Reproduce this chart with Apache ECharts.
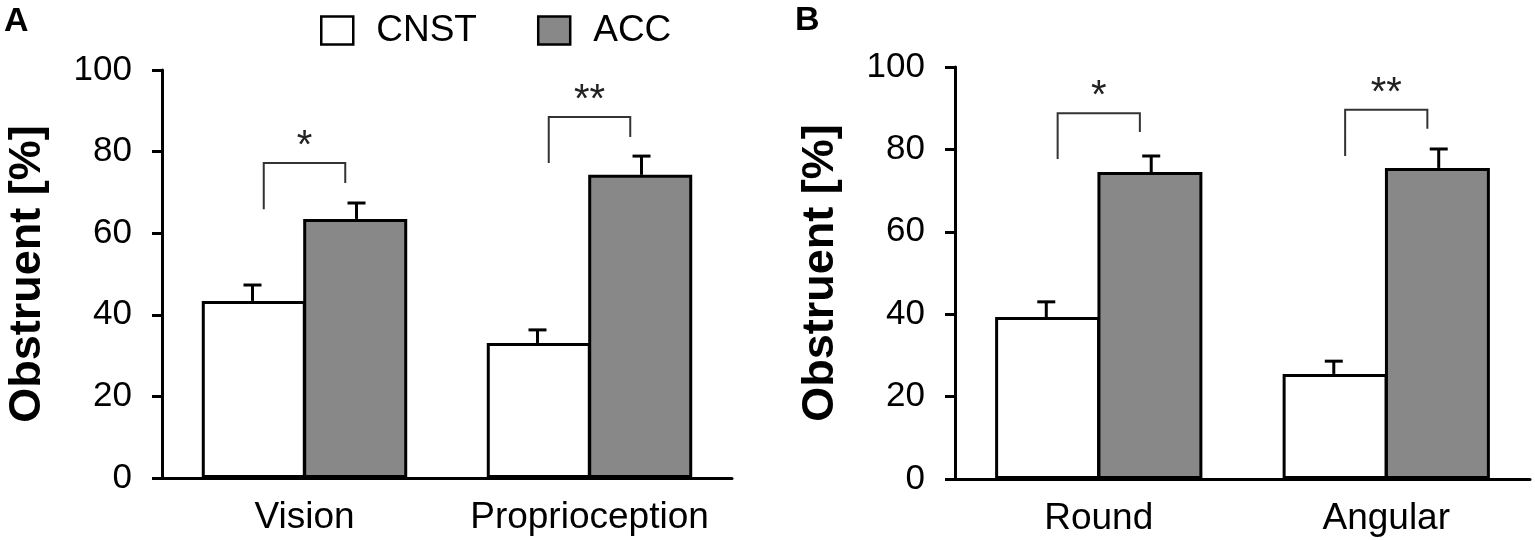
<!DOCTYPE html>
<html>
<head>
<meta charset="utf-8">
<script src="https://cdn.jsdelivr.net/npm/echarts@6/dist/echarts.min.js"></script>
<style>
  html, body { margin: 0; padding: 0; background: #fff; }
  #main { width: 1535px; height: 540px; }
</style>
</head>
<body>
<div id="main"></div>
<script>
// panel A
var catsA = ['Vision', 'Proprioception'];
var cnstA = [43.4, 33.1];
var cnstErrA = [3.9, 3.2];
var accA = [63.5, 74.3];
var accErrA = [3.9, 4.6];
// [category, left leg bottom, bracket top, right leg bottom, mark]
var sigA = [[0, 65.9, 77.2, 72.3, '*'], [1, 77.2, 88.5, 83.6, '**']];

// panel B
var catsB = ['Round', 'Angular'];
var cnstB = [39.3, 25.5];
var cnstErrB = [3.7, 3.1];
var accB = [74.5, 75.5];
var accErrB = [3.9, 4.6];
var sigB = [[0, 77.7, 88.8, 84.2, '*'], [1, 78.4, 89.6, 85.0, '**']];

var yTicks = [0, 20, 40, 60, 80, 100];

var FONT = '"Liberation Sans", Arial, Helvetica, sans-serif';
var BAR_W = 0.365;

var chart = echarts.init(document.getElementById('main'));

function errRender(shift) {
  return function (params, api) {
    var c = api.value(0), v = api.value(1), e = api.value(2);
    var band = api.size([1, 0])[0];
    var p0 = api.coord([c, v]);
    var p1 = api.coord([c, v + e]);
    var x = p0[0] + shift * band;
    return {
      type: 'group',
      children: [
        { type: 'line', shape: { x1: x, y1: p0[1], x2: x, y2: p1[1] }, style: { stroke: '#000', lineWidth: 3 } },
        { type: 'line', shape: { x1: x - 9, y1: p1[1], x2: x + 9, y2: p1[1] }, style: { stroke: '#000', lineWidth: 3 } }
      ]
    };
  };
}

function sigRender(list) {
  return function (params, api) {
    var d = list[params.dataIndex];
    var band = api.size([1, 0])[0];
    var cx = api.coord([d[0], 0])[0];
    var xl = cx - 0.143 * band, xr = cx + 0.143 * band;
    var yl = api.coord([d[0], d[1]])[1];
    var yt = api.coord([d[0], d[2]])[1];
    var yr = api.coord([d[0], d[3]])[1];
    return {
      type: 'group',
      children: [
        { type: 'polyline', shape: { points: [[xl, yl], [xl, yt], [xr, yt], [xr, yr]] },
          style: { stroke: '#333', lineWidth: 2, fill: null } },
        { type: 'text', style: { text: d[4], x: (xl + xr) / 2, y: yt + 4, align: 'center', verticalAlign: 'bottom',
          fontSize: 40, fontFamily: FONT, fill: '#222' } }
      ]
    };
  };
}

function pack(vals, errs) {
  return vals.map(function (v, i) { return [i, v, errs[i]]; });
}

function yAxisCfg(idx) {
  return {
    gridIndex: idx,
    type: 'value',
    min: yTicks[0],
    max: yTicks[yTicks.length - 1],
    interval: yTicks[1] - yTicks[0],
    name: 'Obstruent [%]',
    nameLocation: 'middle',
    nameGap: 112,
    nameTextStyle: { fontSize: 45, fontWeight: 'bold', fontFamily: FONT, color: '#000' },
    axisLine: { show: true, lineStyle: { color: '#000', width: 3 } },
    axisTick: { show: true, length: 10, lineStyle: { color: '#000', width: 3 } },
    axisLabel: { fontSize: 35, fontFamily: FONT, color: '#000', margin: 30 },
    splitLine: { show: false }
  };
}

function xAxisCfg(idx, cats) {
  return {
    gridIndex: idx,
    type: 'category',
    data: cats,
    axisLine: { show: true, lineStyle: { color: '#000', width: 3 } },
    axisTick: { show: false },
    axisLabel: { interval: 0, fontSize: 37, fontFamily: FONT, color: '#000', margin: 21 }
  };
}

var barStyle = function (fill) {
  return { color: fill, borderColor: '#000', borderWidth: 3 };
};

var series = [];
[[cnstA, cnstErrA, accA, accErrA, sigA], [cnstB, cnstErrB, accB, accErrB, sigB]].forEach(function (p, g) {
  series.push({
    name: 'CNST', type: 'bar', xAxisIndex: g, yAxisIndex: g, data: p[0],
    barWidth: (BAR_W * 100) + '%', barGap: '-2.5%', itemStyle: barStyle('#ffffff'), silent: true
  });
  series.push({
    name: 'ACC', type: 'bar', xAxisIndex: g, yAxisIndex: g, data: p[2],
    barWidth: (BAR_W * 100) + '%', barGap: '-2.5%', itemStyle: barStyle('#888888'), silent: true
  });
  series.push({
    type: 'custom', xAxisIndex: g, yAxisIndex: g, data: pack(p[0], p[1]),
    renderItem: errRender(-BAR_W / 2), z: 5, silent: true
  });
  series.push({
    type: 'custom', xAxisIndex: g, yAxisIndex: g, data: pack(p[2], p[3]),
    renderItem: errRender(BAR_W / 2), z: 5, silent: true
  });
  series.push({
    type: 'custom', xAxisIndex: g, yAxisIndex: g, data: p[4].map(function (d) { return [d[0], d[2]]; }),
    renderItem: sigRender(p[4]), z: 5, silent: true, clip: false
  });
});

var option = {
  animation: false,
  backgroundColor: '#fff',
  legend: {
    data: [
      { name: 'CNST', itemStyle: { color: '#fff', borderColor: '#000', borderWidth: 2.5 } },
      { name: 'ACC', itemStyle: { color: '#888888', borderColor: '#000', borderWidth: 2.5 } }
    ],
    icon: 'rect',
    left: 315,
    top: 7,
    itemWidth: 32,
    itemHeight: 28,
    itemGap: 60,
    selectedMode: false,
    textStyle: { fontSize: 37, fontFamily: FONT, color: '#000', padding: [0, 0, 0, 18] }
  },
  grid: [
    { left: 162, right: 803, top: 70, bottom: 62 },
    { left: 955, right: 5, top: 67, bottom: 61 }
  ],
  xAxis: [xAxisCfg(0, catsA), xAxisCfg(1, catsB)],
  yAxis: [yAxisCfg(0), yAxisCfg(1)],
  graphic: [
    { type: 'text', left: 4, top: 5, style: { text: 'A', fontSize: 34, fontWeight: 'bold', fontFamily: FONT, fill: '#000' } },
    { type: 'text', left: 795, top: 4, style: { text: 'B', fontSize: 34, fontWeight: 'bold', fontFamily: FONT, fill: '#000' } }
  ],
  series: series
};

chart.setOption(option);
</script>
</body>
</html>
